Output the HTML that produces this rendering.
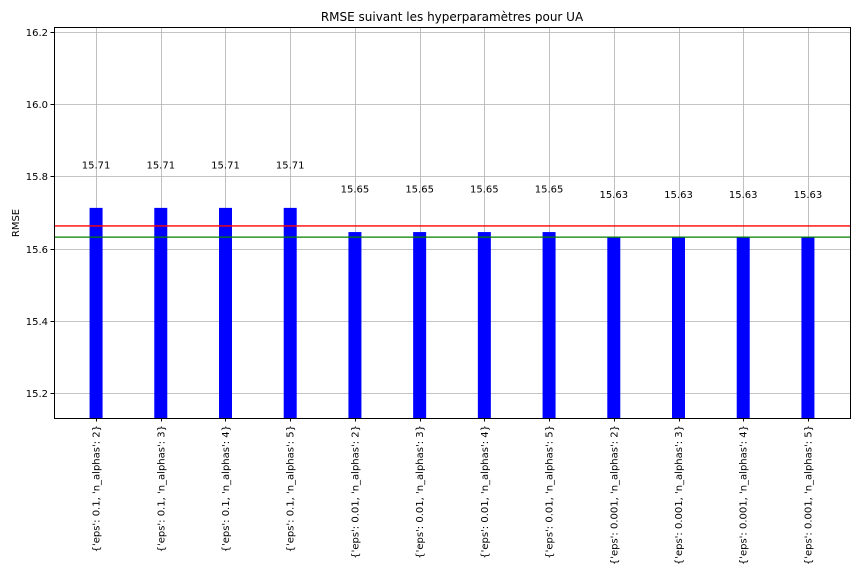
<!DOCTYPE html>
<html><head><meta charset="utf-8"><style>body{margin:0;background:#fff}svg{display:block;font-family:"DejaVu Sans","Liberation Sans",sans-serif}</style></head>
<body>
<svg id="chart" width="864" height="576" xmlns="http://www.w3.org/2000/svg">
<text x="452" y="21" text-anchor="middle" font-size="12">RMSE suivant les hyperparamètres pour UA</text>
<text transform="translate(19,223) rotate(-90)" text-anchor="middle" font-size="10">RMSE</text>
<g id="grid"></g><g id="bars"></g><g id="lines"></g><g id="labels"></g>
<rect x="54.5" y="27.5" width="796" height="391" fill="none" stroke="#000" stroke-width="1"/>
</svg>
<script>
const categories=["{'eps': 0.1, 'n_alphas': 2}","{'eps': 0.1, 'n_alphas': 3}","{'eps': 0.1, 'n_alphas': 4}","{'eps': 0.1, 'n_alphas': 5}","{'eps': 0.01, 'n_alphas': 2}","{'eps': 0.01, 'n_alphas': 3}","{'eps': 0.01, 'n_alphas': 4}","{'eps': 0.01, 'n_alphas': 5}","{'eps': 0.001, 'n_alphas': 2}","{'eps': 0.001, 'n_alphas': 3}","{'eps': 0.001, 'n_alphas': 4}","{'eps': 0.001, 'n_alphas': 5}"];
const values=[15.713,15.713,15.713,15.713,15.646,15.646,15.646,15.646,15.632,15.632,15.632,15.632];
const yTicks=[15.2,15.4,15.6,15.8,16.0,16.2];
const meanLine=15.663;
const minLine=15.632;
const NS="http://www.w3.org/2000/svg";
const L=54,R=850,T=27,B=418,yMin=15.131,yMax=16.214;
const n=categories.length;
const xs=i=>L+(i+0.65)*(R-L)/(n-1+1.3);
const ys=v=>B-(v-yMin)/(yMax-yMin)*(B-T);
function mk(tag,attrs,parent){const e=document.createElementNS(NS,tag);for(const k in attrs)e.setAttribute(k,attrs[k]);document.getElementById(parent).appendChild(e);return e;}
yTicks.forEach(t=>{const y=Math.round(ys(t))+0.5;
 const g=mk('line',{x1:L,x2:R,y1:y,y2:y,stroke:'#b0b0b0','stroke-width':0.8},'grid');
 
 
 mk('line',{x1:L-3.5,x2:L,y1:y,y2:y,stroke:'#000'},'grid');
 const tx=mk('text',{x:L-6,y:y+3.5,'text-anchor':'end','font-size':10},'grid');tx.textContent=t.toFixed(1);
 
 });
categories.forEach((c,i)=>{const x=Math.round(xs(i))+0.5;
 const g=mk('line',{x1:x,x2:x,y1:T,y2:B,stroke:'#b0b0b0','stroke-width':0.8},'grid');
 
 
 mk('line',{x1:x,x2:x,y1:B,y2:B+3.5,stroke:'#000'},'grid');
 const y=ys(values[i]);
 const b=mk('rect',{x:xs(i)-6.5,y:y,width:13,height:B-y,fill:'#0000ff'},'bars');
 
 
 const v=mk('text',{x:xs(i),y:ys(values[i]+0.12)+4,'text-anchor':'middle','font-size':10},'labels');v.textContent=values[i].toFixed(2);
 
 
 const t=mk('text',{transform:`translate(${xs(i)+3.5},${B+7}) rotate(-90)`,'text-anchor':'end','font-size':10},'labels');t.textContent=c;
 
 });
const r=mk('line',{x1:L,x2:R,y1:ys(meanLine),y2:ys(meanLine),stroke:'#ff0000','stroke-width':1.3},'lines');


const g2=mk('line',{x1:L,x2:R,y1:ys(minLine),y2:ys(minLine),stroke:'#008000','stroke-width':1.3},'lines');


</script>
</body></html>
